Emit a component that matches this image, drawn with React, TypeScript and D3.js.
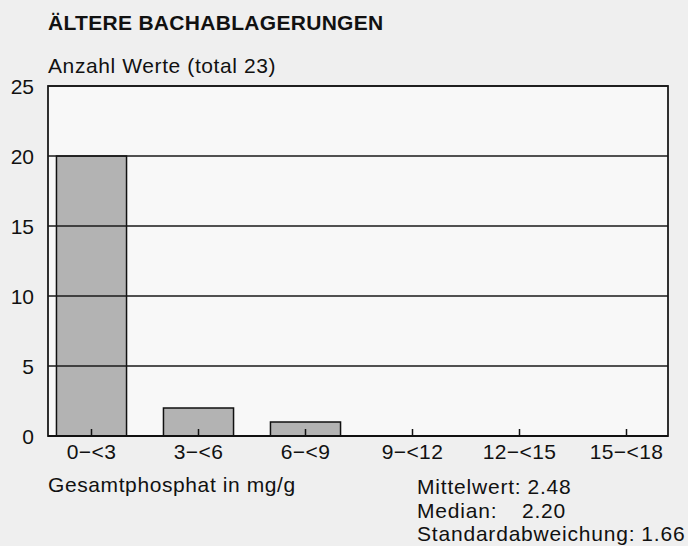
import * as d3 from "d3"

const categories = ["0−<3", "3−<6", "6−<9", "9−<12", "12−<15", "15−<18"]
const counts = [20, 2, 1, 0, 0, 0]
const yTicks = [0, 5, 10, 15, 20, 25]
const statLabels = ["Mittelwert:", "Median:", "Standardabweichung:"]
const statValues = ["2.48", "2.20", "1.66"]

const W = 688
const H = 546
const margin = { top: 86, right: 20, bottom: 110, left: 48 }
const font = "'Liberation Sans', Arial, Helvetica, sans-serif"

export default function App() {
  const innerW = W - margin.left - margin.right
  const bottom = H - margin.bottom

  const x = d3
    .scalePoint<string>()
    .domain(categories)
    .range([margin.left + 43.5, margin.left + innerW - 41.5])
  const step = x.step()
  const barW = step * 0.655

  const y = d3.scaleLinear().domain([0, 25]).range([bottom, margin.top])

  return (
    <svg width={W} height={H} style={{ position: "absolute", left: 0, top: 0 }} fontFamily={font}>
      <rect width={W} height={H} fill="#efefef" />
      <rect x={margin.left} y={margin.top} width={innerW} height={bottom - margin.top} fill="#f8f8f8" />

      {/* title */}
      <text x={48} y={30} fontSize={21} fontWeight="bold" letterSpacing={0.3} fill="#111">
        ÄLTERE BACHABLAGERUNGEN
      </text>
      <text x={48} y={73} fontSize={21} letterSpacing={0.6} fill="#111">
        Anzahl Werte (total 23)
      </text>

      {/* bars */}
      {counts.map((c, i) =>
        c > 0 ? (
          <rect
            key={categories[i]}
            x={x(categories[i])! - barW / 2}
            y={y(c)}
            width={barW}
            height={bottom - y(c)}
            fill="#b3b3b3"
            stroke="#111"
            strokeWidth={1.5}
          />
        ) : null,
      )}

      {/* gridlines drawn over bars */}
      {yTicks.map((t) => (
        <g key={t}>
          <line x1={margin.left} x2={margin.left + innerW} y1={y(t)} y2={y(t)} stroke="#1a1a1a" strokeWidth={1.6} />
          <text x={34} y={y(t)} dy="0.36em" textAnchor="end" fontSize={21} fill="#111">
            {t}
          </text>
        </g>
      ))}

      {/* frame */}
      <rect
        x={margin.left}
        y={margin.top}
        width={innerW}
        height={bottom - margin.top}
        fill="none"
        stroke="#1a1a1a"
        strokeWidth={1.8}
      />
      <line x1={margin.left} x2={margin.left + innerW} y1={bottom} y2={bottom} stroke="#111" strokeWidth={2.2} />

      {/* category ticks and labels */}
      {categories.map((c) => (
        <g key={c}>
          <line x1={x(c)} x2={x(c)} y1={bottom} y2={bottom - 7} stroke="#111" strokeWidth={1.5} />
          <text x={x(c)} y={459} textAnchor="middle" fontSize={21} letterSpacing={0.4} fill="#111">
            {c}
          </text>
        </g>
      ))}

      <text x={48} y={492} fontSize={21} letterSpacing={0.6} fill="#111">
        Gesamtphosphat in mg/g
      </text>

      {statLabels.map((l, i) => (
        <text key={l} x={417} y={494 + i * 23.5} fontSize={21} letterSpacing={0.8} fill="#111">
          {l}
          <tspan x={i === 1 ? 522 : undefined} dx={i === 1 ? 0 : 6}>
            {statValues[i]}
          </tspan>
        </text>
      ))}
    </svg>
  )
}
